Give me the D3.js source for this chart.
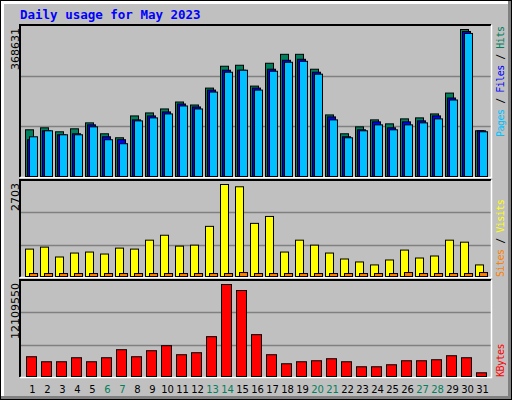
<!DOCTYPE html>
<html><head><meta charset="utf-8">
<script src="https://cdn.jsdelivr.net/npm/d3@7"></script>
<style>body{margin:0;background:#fff}</style></head>
<body><svg id="c" width="512" height="400"></svg>
<script>
const days = d3.range(1,32);
const weekend = [6,7,13,14,20,21,27,28];
const hits = [117100,122100,112100,119600,134500,107100,97100,151900,159400,169400,186800,179300,221700,276500,279000,226700,284000,306400,306400,269000,154400,107100,124500,142000,132000,144500,147000,156900,209200,368631,114600];
const files = [92200,114600,104600,107100,129500,99600,92200,142000,151900,161900,181800,174400,216700,266500,266500,221700,269000,291400,293900,261500,149400,99600,117100,137000,122100,137000,139500,151900,196800,363700,114600];
const pages = [99600,114600,104600,104600,124500,92200,82200,139500,147000,156900,176900,169400,211700,261500,266500,216700,264000,286500,288900,256600,142000,97100,114600,129500,117100,129500,134500,144500,191800,358700,112100];
const visits = [805,863,573,689,718,660,834,805,1067,1212,892,921,1473,2703,2636,1561,1764,718,1067,921,689,514,427,340,485,776,543,602,1067,1008,340];
const sites = [87,87,87,87,87,87,87,87,87,87,87,87,87,87,116,87,87,87,87,87,87,87,87,87,87,116,87,87,87,87,116];
const kbytes = [2601500,1941000,1941000,2469500,1941000,2469500,3526000,2601500,3393900,4054200,2865600,3129800,5242700,12109550,11317300,5506800,2865600,1677100,1941000,2073300,2337400,1941000,1281000,1281000,1545100,2073300,2073300,2205400,2733600,2469500,488600];
const maxLabels = ["368631","2703","12109550"];

const svg = d3.select("#c");
svg.append("rect").attr("width",512).attr("height",400).attr("fill","#000");
svg.append("rect").attr("x",1).attr("y",1).attr("width",510).attr("height",398).attr("fill","#808080");
svg.append("rect").attr("x",1).attr("y",1).attr("width",507).attr("height",395).attr("fill","#fff");
svg.append("rect").attr("x",4).attr("y",4).attr("width",504).attr("height",392).attr("fill","#C0C0C0");

svg.append("text").attr("x",20).attr("y",19).attr("fill","#0000FF")
  .attr("font-family","DejaVu Sans Mono").attr("font-weight","bold").attr("font-size",12.5)
  .text("Daily usage for May 2023");

const x = d3.scaleLinear().domain([1,31]).range([25,475]);
const L=20, R=491;
function panel(top,bottom){
  svg.append("rect").attr("x",L).attr("y",top).attr("width",R-L).attr("height",bottom-top).attr("fill","#C0C0C0");
  [1,2].forEach(i=>{const gy=Math.round(top+(bottom-top)*i/3)+0.5;
    svg.append("line").attr("x1",L).attr("x2",R).attr("y1",gy).attr("y2",gy).attr("stroke","#808080").attr("stroke-width",1.5);});
  svg.append("path").attr("d",`M${L},${bottom}V${top}H${R}`).attr("fill","none").attr("stroke","#000").attr("stroke-width",2);
  svg.append("path").attr("d",`M${L},${bottom+0.5}H${R+0.5}V${top}`).attr("fill","none").attr("stroke","#fff").attr("stroke-width",1.5);
}
function bars(data,max,top,bottom,dx,w,color){
  const y=d3.scaleLinear().domain([0,max]).range([bottom,top+4]);
  svg.append("g").selectAll("rect").data(data).join("rect")
    .attr("x",(d,i)=>x(days[i])+dx+0.5).attr("y",d=>y(d)+0.5)
    .attr("width",w).attr("height",d=>bottom-y(d))
    .attr("fill",color).attr("stroke","#000").attr("stroke-width",1);
}
function ylabel(t,top,cx){
  svg.append("text").attr("transform",`translate(${cx},${top+3}) rotate(-90)`)
    .attr("text-anchor","end").attr("font-family","DejaVu Sans").attr("font-size",11).attr("fill","#000").text(t);
}
function rlabel(parts,bottom){
  const t=svg.append("text").attr("transform",`translate(504,${bottom}) rotate(-90)`)
    .attr("font-family","DejaVu Sans Mono").attr("font-size",10).attr("letter-spacing",-0.5);
  parts.forEach(p=>t.append("tspan").attr("fill",p[1]).text(p[0]));
}
panel(25,177);
const m1=d3.max(hits);
bars(hits,m1,25,176,0,8,"#00805C");
bars(files,m1,25,176,2,8,"#0000FF");
bars(pages,m1,25,176,4,8,"#00C0FF");
ylabel(maxLabels[0],25,19);
rlabel([["Pages","#00C0FF"],[" / ","#000"],["Files","#0000FF"],[" / ","#000"],["Hits","#00805C"]],137);
panel(180,277);
const m2=d3.max(visits);
bars(visits,m2,180,276,0,8,"#FFFF00");
bars(sites,m2,180,276,4,8,"#FF8000");
ylabel(maxLabels[1],180,19);
rlabel([["Sites","#FF8000"],[" / ","#000"],["Visits","#FFFF00"]],277);
panel(280,377);
bars(kbytes,d3.max(kbytes),280,376,1,10,"#FF0000");
ylabel(maxLabels[2],280,19);
rlabel([["KBytes","#FF0000"]],377);
svg.append("g").selectAll("text").data(days).join("text")
  .attr("x",d=>x(d)+7.5).attr("y",393).attr("text-anchor","middle")
  .attr("font-family","DejaVu Sans").attr("font-size",10)
  .attr("fill",d=>weekend.includes(d)?"#00805C":"#000").text(d=>d);
</script></body></html>
